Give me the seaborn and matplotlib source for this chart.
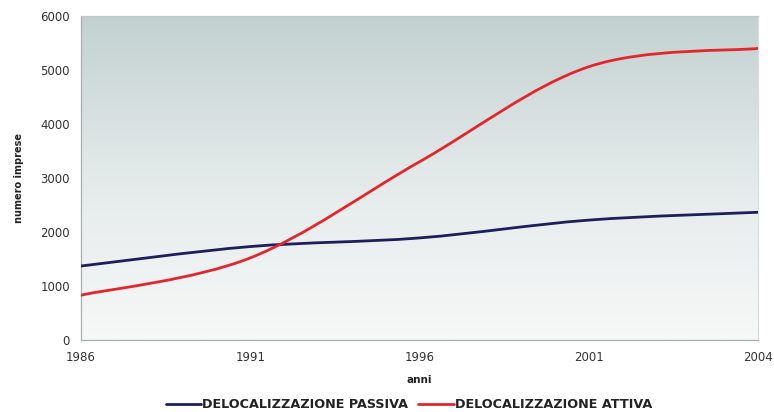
import numpy as np
import pandas as pd
import seaborn as sns
import matplotlib
matplotlib.use("Agg")
import matplotlib.pyplot as plt
from matplotlib.path import Path
from matplotlib.patches import PathPatch
from matplotlib.lines import Line2D
from matplotlib.colors import LinearSegmentedColormap

# Data (categories on the x axis are equally spaced)
anni = ["1986", "1991", "1996", "2001", "2004"]
passiva = [1370, 1730, 1890, 2220, 2365]
attiva = [830, 1520, 3300, 5060, 5400]
serie = ["DELOCALIZZAZIONE PASSIVA", "DELOCALIZZAZIONE ATTIVA"]
colori = ["#1c1f5c", "#e3262b"]

sns.set_theme(style="white")
plt.rcParams["font.family"] = ["DejaVu Sans"]

df = pd.DataFrame({
    "pos": list(range(len(anni))) * 2,
    "valore": passiva + attiva,
    "serie": [serie[0]] * len(anni) + [serie[1]] * len(anni),
})

fig = plt.figure(figsize=(7.74, 4.12), dpi=100)
ax = fig.add_axes([0.1047, 0.1748, 0.8746, 0.7864])

# vertical gradient background of the plot area
cmap = LinearSegmentedColormap.from_list("bg", ["#f7f8f8", "#e4eaea", "#c2d1d0"])
grad = np.linspace(0, 1, 256).reshape(-1, 1)
ax.imshow(grad, cmap=cmap, aspect="auto", extent=[0, 1, 0, 1],
          transform=ax.transAxes, origin="lower", zorder=0)

# points of each series (line drawn below as a smoothed curve)
sns.lineplot(data=df, x="pos", y="valore", hue="serie", palette=colori,
             linewidth=0, legend=False, ax=ax)


def smooth_path(xs, ys):
    """Cubic Bezier path through the points (Catmull-Rom style control points)."""
    pts = np.column_stack([xs, ys]).astype(float)
    n = len(pts)
    verts = [pts[0]]
    codes = [Path.MOVETO]
    for i in range(n - 1):
        p0 = pts[max(i - 1, 0)]
        p1 = pts[i]
        p2 = pts[i + 1]
        p3 = pts[min(i + 2, n - 1)]
        c1 = p1 + (p2 - p0) / 6.0
        c2 = p2 - (p3 - p1) / 6.0
        verts += [c1, c2, p2]
        codes += [Path.CURVE4] * 3
    return Path(verts, codes)


pos = np.arange(len(anni))
for vals, col in zip([passiva, attiva], colori):
    patch = PathPatch(smooth_path(pos, vals), facecolor="none", edgecolor=col,
                      linewidth=2.0, zorder=3, capstyle="round")
    ax.add_patch(patch)

ax.set_xlim(0, len(anni) - 1)
ax.set_ylim(0, 6000)
ax.set_xticks(pos)
ax.set_xticklabels(anni)
ax.set_yticks(np.arange(0, 6001, 1000))
ax.tick_params(axis="both", labelsize=8.5, colors="#333333", length=0, pad=8)
for lab in ax.get_xticklabels() + ax.get_yticklabels():
    lab.set_color("#333333")

ax.set_xlabel("anni", fontsize=7.5, fontweight="bold", color="#222222", labelpad=8)
ax.set_ylabel("numero imprese", fontsize=7, fontweight="bold", color="#222222", labelpad=12)

for side in ["left", "bottom", "top", "right"]:
    ax.spines[side].set_visible(True)
    ax.spines[side].set_linewidth(0.9)
ax.spines["left"].set_color("#a9afaf")
ax.spines["bottom"].set_color("#a9afaf")
ax.spines["top"].set_color("#c0c8c8")
ax.spines["right"].set_color("#d8dddd")
ax.grid(False)

handles = [Line2D([0], [0], color=c, linewidth=2.0) for c in colori]
fig.legend(handles, serie, loc="center", bbox_to_anchor=(0.528, 0.017), ncol=2,
           frameon=False, handlelength=2.8, handletextpad=0.05, columnspacing=0.8,
           prop={"size": 9.2, "weight": "bold"}, labelcolor="#222222",
           borderpad=0.0)

fig.savefig("out.png", dpi=100)
